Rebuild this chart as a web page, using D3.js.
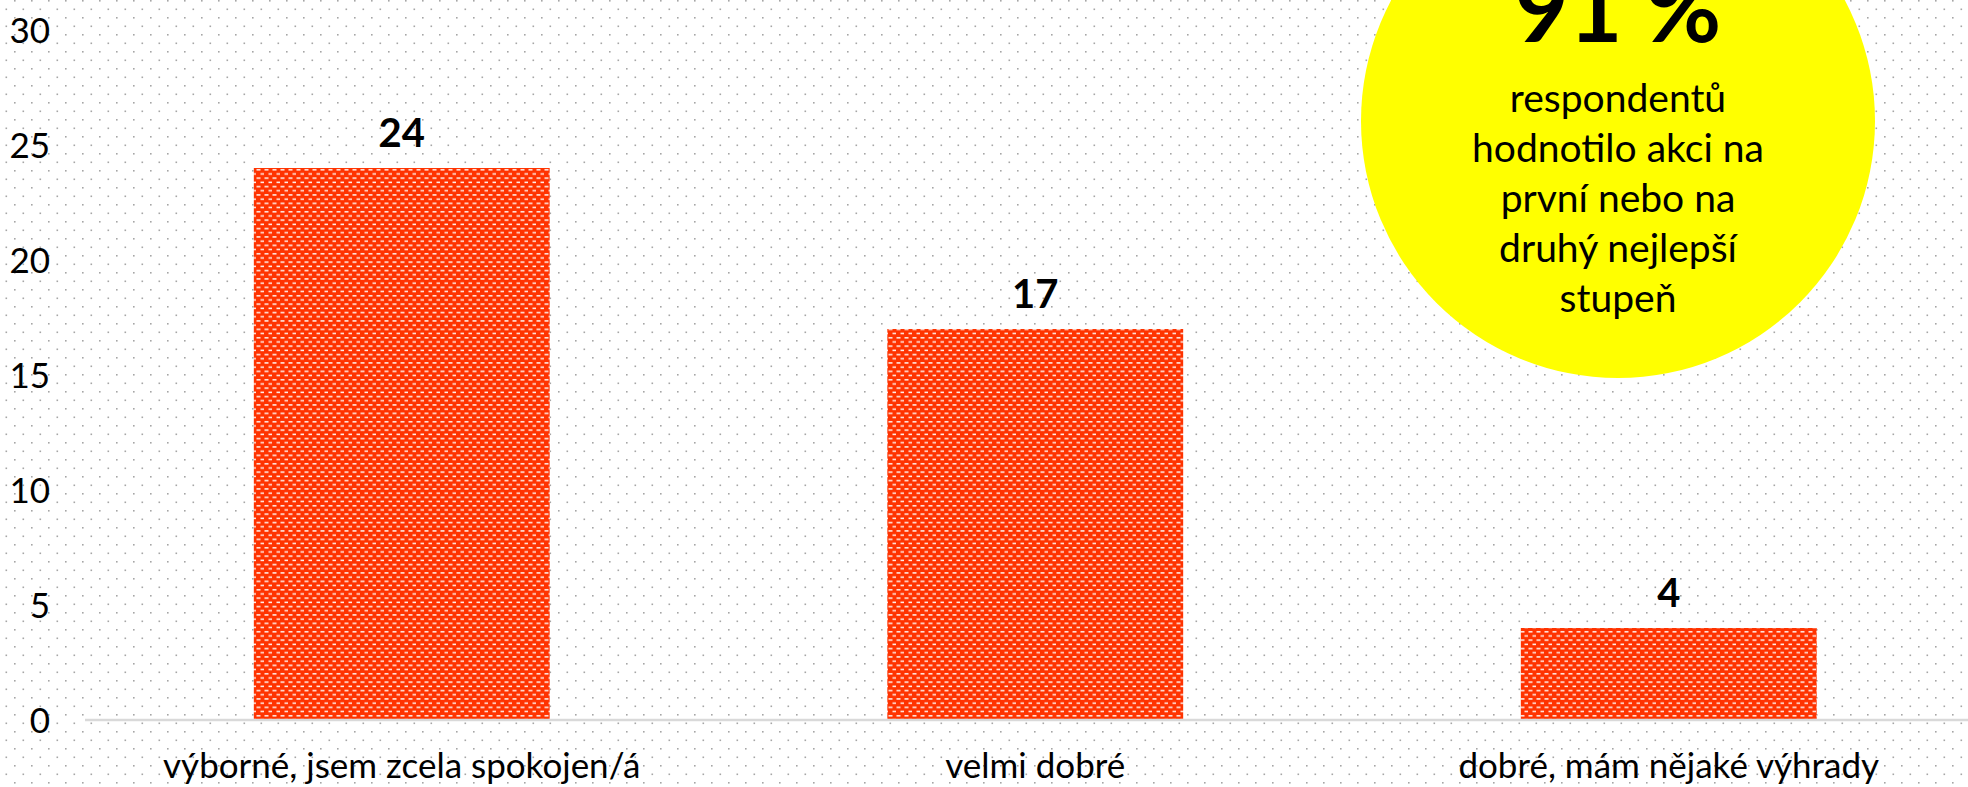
<!DOCTYPE html>
<html>
<head>
<meta charset="utf-8">
<script src="https://cdn.jsdelivr.net/npm/d3@7"></script>
<style>
  html, body { margin: 0; padding: 0; background: #fff; }
  svg { display: block; }
  text { font-family: Lato, "Open Sans", sans-serif; fill: #000; }
</style>
</head>
<body>
<div id="chart"></div>
<script>
// data
var categories = ["výborné, jsem zcela spokojen/á", "velmi dobré", "dobré, mám nějaké výhrady"];
var values = [24, 17, 4];
var yTicks = [0, 5, 10, 15, 20, 25, 30];
var calloutValue = "91 %";
var calloutLines = ["respondentů", "hodnotilo akci na", "první nebo na", "druhý nejlepší", "stupeň"];

// size
var w = 1968;
var h = 787;
var left = 85;
var step = 633.5;
var base = 720;
var yTop = 30;

var svg = d3.select("#chart")
	.append("svg")
	.attr("width", w)
	.attr("height", h);

var defs = svg.append("defs");

// dotted background
var dots = defs.append("pattern")
	.attr("id", "dots")
	.attr("patternUnits", "userSpaceOnUse")
	.attr("width", 17)
	.attr("height", 17);
dots.append("rect").attr("x", 14).attr("y", 0).attr("width", 1.6).attr("height", 1.6).style("fill", "#a6a6a6");
dots.append("rect").attr("x", 5.5).attr("y", 8.5).attr("width", 1.6).attr("height", 1.6).style("fill", "#a6a6a6");

// bar texture: red with small white dashes
var tex = defs.append("pattern")
	.attr("id", "bricks")
	.attr("patternUnits", "userSpaceOnUse")
	.attr("width", 8)
	.attr("height", 8.4);
tex.append("rect").attr("width", 8).attr("height", 8.4).style("fill", "#ff3300");
tex.append("rect").attr("x", 0.5).attr("y", 1).attr("width", 4).attr("height", 1.5).style("fill", "#fff2ee");
tex.append("rect").attr("x", 4.5).attr("y", 5.2).attr("width", 4).attr("height", 1.5).style("fill", "#fff2ee");

svg.append("rect")
	.attr("width", w)
	.attr("height", h)
	.style("fill", "url(#dots)");

// scales
var x = d3.scaleBand()
	.domain(categories)
	.range([left, left + step * categories.length])
	.paddingInner(0.533)
	.paddingOuter(0.2665);

var y = d3.scaleLinear()
	.domain([0, 30])
	.range([base, yTop]);

// y axis labels only
var yAxis = svg.append("g")
	.attr("transform", "translate(56,0)")
	.call(d3.axisLeft(y).tickValues(yTicks).tickSize(0).tickPadding(6));
yAxis.select(".domain").remove();
yAxis.selectAll("text")
	.style("font-family", "Lato, sans-serif")
	.style("font-size", "35px")
	.attr("dy", "0.36em")
	.style("fill", "#000");

// bars
svg.selectAll("rect.bar")
	.data(values)
	.enter().append("rect")
	.attr("class", "bar")
	.attr("x", function(d, i) { return x(categories[i]); })
	.attr("y", function(d) { return y(d); })
	.attr("width", x.bandwidth())
	.attr("height", function(d) { return base - y(d); })
	.style("fill", "url(#bricks)");

// value labels
svg.selectAll("text.val")
	.data(values)
	.enter().append("text")
	.attr("class", "val")
	.attr("x", function(d, i) { return x(categories[i]) + x.bandwidth() / 2; })
	.attr("y", function(d) { return y(d) - 21; })
	.attr("text-anchor", "middle")
	.style("font-size", "40px")
	.style("font-weight", "bold")
	.text(function(d) { return d; });

// x axis: grey base line + category labels
var xAxis = svg.append("g")
	.attr("transform", "translate(0," + base + ")")
	.call(d3.axisBottom(x).tickSize(0).tickSizeOuter(0).tickPadding(33));
xAxis.select(".domain")
	.attr("d", "M" + left + ",0H" + w)
	.style("stroke", "#d9d9d9")
	.style("stroke-width", 2.5);
xAxis.selectAll("text")
	.style("font-family", "Lato, sans-serif")
	.style("font-size", "35px")
	.style("fill", "#000");

// yellow callout
var cx = 1618, cy = 121, r = 257;
svg.append("circle")
	.attr("cx", cx)
	.attr("cy", cy)
	.attr("r", r)
	.style("fill", "#ffff00");

svg.append("text")
	.attr("x", cx)
	.attr("y", 42)
	.attr("text-anchor", "middle")
	.style("font-size", "93px")
	.style("font-weight", "bold")
	.text(calloutValue);

svg.append("g").selectAll("text")
	.data(calloutLines)
	.enter().append("text")
	.attr("x", cx)
	.attr("y", function(d, i) { return 112 + i * 50; })
	.attr("text-anchor", "middle")
	.style("font-size", "39px")
	.text(function(d) { return d; });
</script>
</body>
</html>
